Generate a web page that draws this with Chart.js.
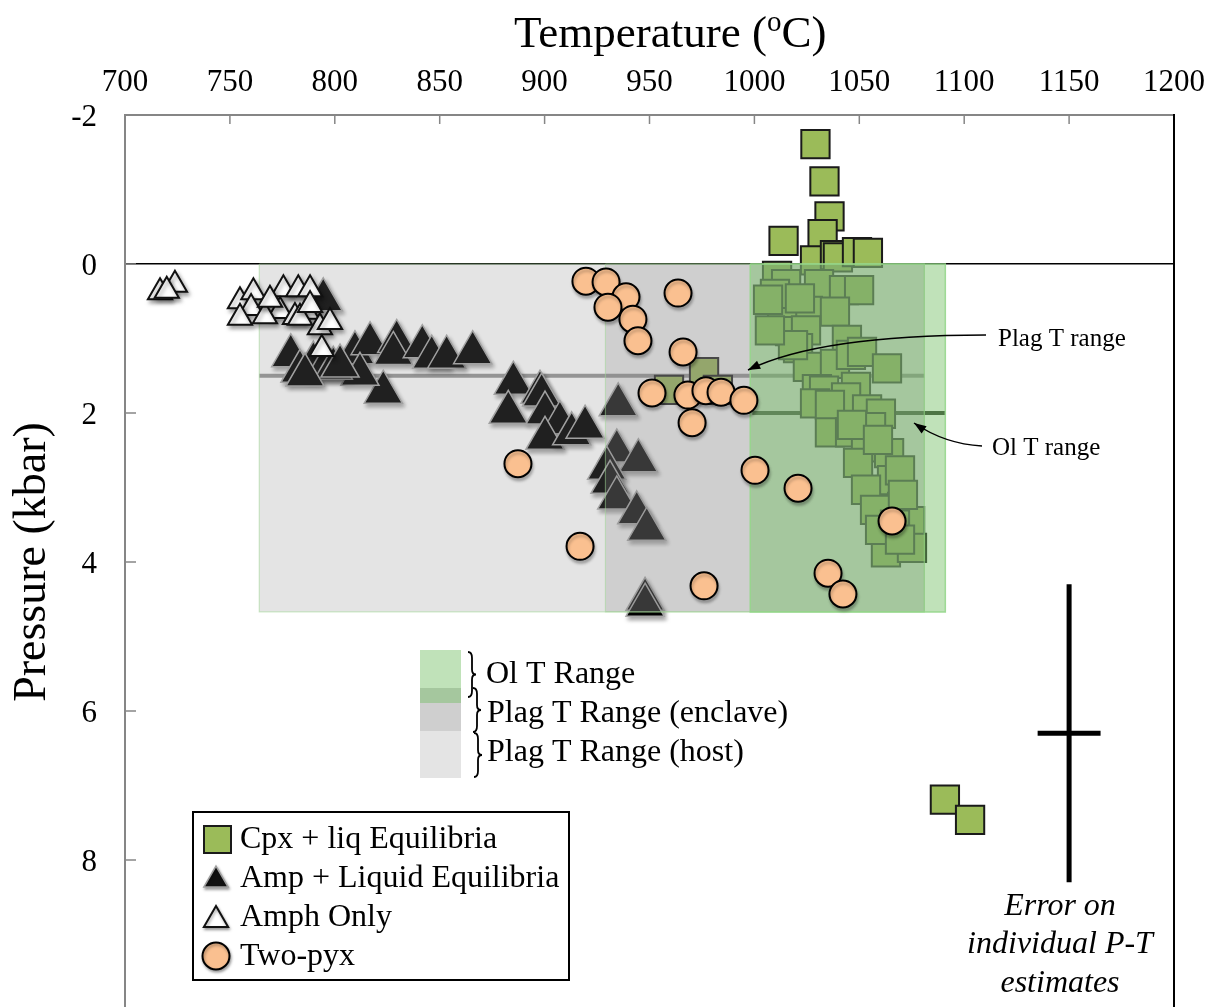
<!DOCTYPE html>
<html>
<head>
<meta charset="utf-8">
<title>P-T estimates</title>
<script src="https://cdn.jsdelivr.net/npm/chart.js@4.4.1/dist/chart.umd.min.js"></script>
<style>
  html, body { margin: 0; padding: 0; background: #fff; overflow: hidden; }
  #wrap { width: 1206px; height: 1012px; }
</style>
</head>
<body>
<div id="wrap"><canvas id="ptChart" width="1206" height="1012"></canvas></div>
<script>
// Axis ticks
const tempTicks = [700, 750, 800, 850, 900, 950, 1000, 1050, 1100, 1150, 1200];
const pressTicks = [-2, 0, 2, 4, 6, 8];
const pressMax = 10;

// Cpx + liq equilibria (T in °C, P in kbar)
const cpxT = [1029.1, 1033.4, 1035.8, 1013.9, 1032.5, 1028.9, 1038.4, 1039.8, 1048.9, 1054.1,
  1010.8, 1015.1, 1009.8, 1030.8, 1042.7, 1049.9, 1025.5, 1038.4, 1013.2, 1017.0,
  1024.6, 1044.1, 1020.8, 1025.5, 1038.4, 1046.0, 1051.3, 1063.2, 1029.8, 1033.2,
  1048.4, 1043.7, 1028.9, 1036.0, 1053.7, 1060.3, 1055.6, 1036.0, 1045.6, 1053.2,
  1064.2, 1049.4, 1065.6, 1053.2, 1070.4, 1057.5, 1074.2, 1067.0, 1062.7, 1075.1,
  1006.5, 1021.7, 1018.4, 1046.5, 1058.9, 1069.4, 1070.8, 1059.9, 1069.4, 1007.4,
  976.0, 959.3, 982.6, 1090.8, 1102.8];
const cpxP = [-1.61, -1.11, -0.64, -0.31, -0.40, -0.05, -0.12, -0.09, -0.16, -0.15,
  0.16, 0.27, 0.40, 0.27, 0.35, 0.35, 0.63, 0.64, 0.78, 0.90,
  0.89, 1.02, 1.13, 1.38, 1.34, 1.22, 1.18, 1.40, 1.68, 1.70,
  1.65, 1.79, 1.87, 1.89, 1.95, 2.01, 2.19, 2.26, 2.26, 2.46,
  2.54, 2.67, 2.90, 3.03, 3.26, 3.30, 3.45, 3.50, 3.87, 3.81,
  0.48, 0.46, 1.09, 2.16, 2.36, 2.77, 3.10, 3.57, 3.70, 0.89,
  1.45, 1.69, 1.69, 7.19, 7.46];

// Amp + liquid equilibria
const ampT = [779.0, 809.6, 816.8, 829.5, 827.9, 841.7, 846.2, 853.3, 865.7, 823.1,
  812.0, 789.8, 783.4, 794.5, 799.3, 794.5, 785.8, 802.5, 885.1, 882.7,
  897.8, 898.6, 900.2, 907.3, 900.2, 912.9, 919.3, 935.1, 934.4, 944.7,
  929.6, 931.2, 934.4, 943.9, 948.7, 947.9, 947.9];
const ampP = [1.23, 1.19, 1.07, 1.04, 1.20, 1.11, 1.25, 1.25, 1.19, 1.72,
  1.48, 1.33, 1.44, 1.42, 1.40, 0.48, 1.49, 1.37, 1.60, 1.99,
  1.72, 1.76, 2.00, 2.13, 2.34, 2.28, 2.19, 1.89, 2.51, 2.64,
  2.74, 2.93, 3.14, 3.34, 3.56, 4.50, 4.58];

// Amph only
const amphT = [723.8, 716.7, 719.9, 754.8, 761.2, 775.5, 782.6, 788.2, 773.9, 786.6,
  781.0, 792.9, 793.8, 760.1, 754.8, 766.7, 783.4, 788.2, 769.1, 797.7];
const amphP = [0.28, 0.38, 0.36, 0.50, 0.38, 0.34, 0.34, 0.34, 0.63, 0.64,
  0.71, 0.85, 1.14, 0.59, 0.72, 0.70, 0.72, 0.55, 0.48, 0.78];

// Two-pyroxene
const pyxT = [919.7, 929.3, 938.8, 930.2, 942.1, 944.5, 963.6, 966.0, 951.2, 968.3,
  976.9, 984.1, 995.0, 970.3, 887.3, 1000.3, 916.9, 976.0, 1020.8, 1065.6,
  1035.1, 1042.2];
const pyxP = [0.23, 0.24, 0.44, 0.58, 0.74, 1.03, 0.39, 1.18, 1.73, 1.76,
  1.70, 1.72, 1.83, 2.13, 2.68, 2.77, 3.79, 4.32, 3.01, 3.45,
  4.15, 4.43];

// Temperature ranges (shaded boxes, from 0 kbar down to rangeP)
const rangeNames = ['Ol T Range', 'Plag T Range (enclave)', 'Plag T Range (host)'];
const rangeTmin = [998, 929, 764];
const rangeTmax = [1091, 1081, 1081];
const rangeP = 4.67;

// Range lines
const plagLineT = [764, 1081];
const plagLineP = 1.5;
const olLineT = [999, 1091];
const olLineP = 2.0;

// Error on individual estimates
const errT = 1150, errP = 6.3, errDT = 15, errDP = 2;

const serif = '"Liberation Serif", "Times New Roman", serif';
Chart.defaults.font.family = serif;
Chart.defaults.color = '#000';

function pts(xs, ys) { return xs.map((x, i) => ({ x: x, y: ys[i] })); }
function box(t0, t1, p0, p1) {
    return [{ x: t0, y: p0 }, { x: t1, y: p0 }, { x: t1, y: p1 }, { x: t0, y: p1 }, { x: t0, y: p0 }];
}

const olFill = 'rgba(115,190,100,0.45)';
const grayFill = 'rgba(140,140,140,0.23)';
const markerShadow = { color: 'rgba(0,0,0,0.35)', blur: 4, dx: 2, dy: 3 };

// Shadows on the marker series
const shadowPlugin = {
    id: 'markerShadow',
    beforeDatasetDraw(chart, args) {
        const s = chart.data.datasets[args.index].shadow;
        if (!s) return;
        const ctx = chart.ctx;
        ctx.save();
        ctx.shadowColor = s.color;
        ctx.shadowBlur = s.blur;
        ctx.shadowOffsetX = s.dx;
        ctx.shadowOffsetY = s.dy;
    },
    afterDatasetDraw(chart, args) {
        if (chart.data.datasets[args.index].shadow) chart.ctx.restore();
    }
};

function tri(ctx, x, y, r) {
    ctx.beginPath();
    ctx.moveTo(x, y - r);
    ctx.lineTo(x + r * 0.866, y + r / 2);
    ctx.lineTo(x - r * 0.866, y + r / 2);
    ctx.closePath();
}

function brace(ctx, x, y0, y1, w) {
    const ym = (y0 + y1) / 2;
    ctx.beginPath();
    ctx.moveTo(x, y0);
    ctx.quadraticCurveTo(x + w, y0, x + w, y0 + 6);
    ctx.lineTo(x + w, ym - 5);
    ctx.quadraticCurveTo(x + w, ym, x + 2 * w, ym);
    ctx.quadraticCurveTo(x + w, ym, x + w, ym + 5);
    ctx.lineTo(x + w, y1 - 6);
    ctx.quadraticCurveTo(x + w, y1, x, y1);
    ctx.stroke();
}

function arrow(ctx, sx, sy, cx, cy, ex, ey) {
    ctx.beginPath();
    ctx.moveTo(sx, sy);
    ctx.quadraticCurveTo(cx, cy, ex, ey);
    ctx.stroke();
    const a = Math.atan2(ey - cy, ex - cx);
    ctx.beginPath();
    ctx.moveTo(ex, ey);
    ctx.lineTo(ex - 13 * Math.cos(a - 0.35), ey - 13 * Math.sin(a - 0.35));
    ctx.lineTo(ex - 13 * Math.cos(a + 0.35), ey - 13 * Math.sin(a + 0.35));
    ctx.closePath();
    ctx.fill();
}

const extras = {
    id: 'extras',
    afterDraw(chart) {
        const { ctx, chartArea: a, scales: { x, y } } = chart;
        ctx.save();

        // right frame
        ctx.strokeStyle = '#000';
        ctx.lineWidth = 2;
        ctx.beginPath();
        ctx.moveTo(a.right, a.top - 1);
        ctx.lineTo(a.right, a.bottom);
        ctx.stroke();

        // inward tick marks
        ctx.strokeStyle = '#868686';
        ctx.lineWidth = 1.5;
        tempTicks.slice(1, -1).forEach(v => {
            const px = x.getPixelForValue(v);
            ctx.beginPath(); ctx.moveTo(px, a.top); ctx.lineTo(px, a.top + 9); ctx.stroke();
        });
        pressTicks.slice(1).forEach(v => {
            const py = y.getPixelForValue(v);
            ctx.beginPath(); ctx.moveTo(a.left, py); ctx.lineTo(a.left + 11, py); ctx.stroke();
        });

        // title with superscript o
        ctx.fillStyle = '#000';
        ctx.textBaseline = 'alphabetic';
        ctx.textAlign = 'left';
        let tx = 514;
        ctx.font = '45px ' + serif;
        ctx.fillText('Temperature (', tx, 47);
        tx += ctx.measureText('Temperature (').width;
        ctx.font = '29px ' + serif;
        ctx.fillText('o', tx, 31);
        tx += ctx.measureText('o').width;
        ctx.font = '45px ' + serif;
        ctx.fillText('C)', tx, 47);

        // annotations
        ctx.font = '25px ' + serif;
        ctx.textBaseline = 'middle';
        ctx.fillText('Plag T range', 998, 339);
        ctx.fillText('Ol T range', 992, 448);
        ctx.strokeStyle = '#000';
        ctx.fillStyle = '#000';
        ctx.lineWidth = 1.5;
        arrow(ctx, 986, 335, 820, 335, 748, 370);
        arrow(ctx, 982, 446, 945, 444, 914, 423);

        // range legend
        ctx.fillStyle = grayFill;
        ctx.fillRect(420, 688, 41, 90);
        ctx.fillRect(420, 688, 41, 43);
        ctx.fillStyle = olFill;
        ctx.fillRect(420, 650, 41, 53);
        ctx.strokeStyle = '#000';
        ctx.lineWidth = 1.8;
        brace(ctx, 468, 652, 697, 4);
        brace(ctx, 473, 688, 732, 4);
        brace(ctx, 474, 733, 777, 4);
        ctx.fillStyle = '#000';
        ctx.font = '32px ' + serif;
        ctx.fillText(rangeNames[0], 486, 675);
        ctx.fillText(rangeNames[1], 487, 714);
        ctx.fillText(rangeNames[2], 487, 753);

        // series legend
        ctx.fillStyle = '#fff';
        ctx.fillRect(193, 812, 376, 168);
        ctx.strokeStyle = '#000';
        ctx.lineWidth = 2;
        ctx.strokeRect(193, 812, 376, 168);
        const names = chart.data.datasets;
        ctx.fillStyle = '#9bbb59';
        ctx.fillRect(204, 826, 27, 27);
        ctx.strokeStyle = '#1a1a1a';
        ctx.strokeRect(204, 826, 27, 27);
        ctx.save();
        ctx.shadowColor = 'rgba(0,0,0,0.35)'; ctx.shadowBlur = 3; ctx.shadowOffsetX = 1; ctx.shadowOffsetY = 2;
        tri(ctx, 216, 880, 14);
        ctx.fillStyle = '#111'; ctx.fill();
        ctx.strokeStyle = '#a0a0a0'; ctx.lineWidth = 1.5; ctx.stroke();
        tri(ctx, 216, 920, 14);
        ctx.fillStyle = '#fff'; ctx.fill();
        ctx.strokeStyle = '#111'; ctx.lineWidth = 2; ctx.stroke();
        ctx.beginPath(); ctx.arc(216, 956, 13.5, 0, Math.PI * 2);
        ctx.fillStyle = '#fac090'; ctx.fill();
        ctx.strokeStyle = '#000'; ctx.stroke();
        ctx.restore();
        ctx.fillStyle = '#000';
        ctx.font = '32px ' + serif;
        ctx.fillText(names[5].label, 240, 840);
        ctx.fillText(names[6].label, 240, 879);
        ctx.fillText(names[1].label, 240, 918);
        ctx.fillText(names[0].label, 240, 957);

        // error note
        ctx.font = 'italic 32px ' + serif;
        ctx.textAlign = 'center';
        ctx.fillText('Error on', 1060, 907);
        ctx.fillText('individual P-T', 1060, 945);
        ctx.fillText('estimates', 1060, 984);

        ctx.restore();
    }
};

const datasets = [
    {
        label: 'Two-pyx', data: pts(pyxT, pyxP), pointStyle: 'circle', pointRadius: 13.5,
        backgroundColor: '#fac090', borderColor: '#000', borderWidth: 2, order: 1,
        shadow: { color: 'rgba(0,0,0,0.25)', blur: 3, dx: 1, dy: 3 }
    },
    {
        label: 'Amph Only', data: pts(amphT, amphP), pointStyle: 'triangle', pointRadius: 14,
        backgroundColor: '#fff', borderColor: '#111', borderWidth: 2, order: 2, shadow: markerShadow
    },
    {
        type: 'line', label: rangeNames[0], data: box(rangeTmin[0], rangeTmax[0], 0, rangeP),
        fill: 'shape', backgroundColor: olFill, borderColor: 'rgba(150,215,140,0.9)',
        borderWidth: 1.5, pointRadius: 0, order: 3
    },
    {
        type: 'line', label: rangeNames[1], data: box(rangeTmin[1], rangeTmax[1], 0, rangeP),
        fill: 'shape', backgroundColor: grayFill, borderColor: 'rgba(160,215,150,0.5)',
        borderWidth: 1.2, pointRadius: 0, order: 4
    },
    {
        type: 'line', label: rangeNames[2], data: box(rangeTmin[2], rangeTmax[2], 0, rangeP),
        fill: 'shape', backgroundColor: grayFill, borderColor: 'rgba(160,215,150,0.5)',
        borderWidth: 1.2, pointRadius: 0, order: 5
    },
    {
        label: 'Cpx + liq Equilibria', data: pts(cpxT, cpxP), pointStyle: 'rect', pointRadius: 20,
        backgroundColor: '#9bbb59', borderColor: '#1a1a1a', borderWidth: 2, order: 6
    },
    {
        label: 'Amp + Liquid Equilibria', data: pts(ampT, ampP), pointStyle: 'triangle', pointRadius: 22,
        backgroundColor: '#000', borderColor: '#a8a8a8', borderWidth: 1.5, order: 7, shadow: markerShadow
    },
    {
        type: 'line', label: 'Ol line', data: pts(olLineT, [olLineP, olLineP]),
        borderColor: '#2e3a2a', borderWidth: 4, pointRadius: 0, fill: false, order: 8
    },
    {
        type: 'line', label: 'Plag line', data: pts(plagLineT, [plagLineP, plagLineP]),
        borderColor: '#979797', borderWidth: 4, pointRadius: 0, fill: false, order: 9
    },
    {
        type: 'line', label: 'err P', data: pts([errT, errT], [errP - errDP, errP + errDP]),
        borderColor: '#000', borderWidth: 5, pointRadius: 0, fill: false, order: 0
    },
    {
        type: 'line', label: 'err T', data: pts([errT - errDT, errT + errDT], [errP, errP]),
        borderColor: '#000', borderWidth: 5, pointRadius: 0, fill: false, order: 0
    }
];

new Chart(document.getElementById('ptChart'), {
    type: 'scatter',
    data: { datasets: datasets },
    options: {
        responsive: false,
        animation: false,
        events: [],
        layout: { padding: { left: 0, top: 0, right: 32, bottom: 3 }, autoPadding: false },
        plugins: {
            legend: { display: false },
            tooltip: { enabled: false }
        },
        scales: {
            x: {
                type: 'linear',
                position: 'top',
                min: tempTicks[0],
                max: tempTicks[tempTicks.length - 1],
                afterBuildTicks: s => { s.ticks = tempTicks.map(v => ({ value: v })); },
                afterFit: s => { s.height = 115; s.paddingLeft = 0; s.paddingRight = 0; },
                ticks: {
                    font: { size: 31 }, padding: 14, maxRotation: 0, autoSkip: false, color: '#000',
                    callback: v => String(v)
                },
                grid: { display: false, drawTicks: false },
                border: { display: true, color: '#868686', width: 2 }
            },
            y: {
                type: 'linear',
                reverse: true,
                min: pressTicks[0],
                max: pressMax,
                afterBuildTicks: s => { s.ticks = pressTicks.map(v => ({ value: v })); },
                afterFit: s => { s.width = 125; s.paddingTop = 0; s.paddingBottom = 0; },
                ticks: { font: { size: 31 }, padding: 28, labelOffset: 3, color: '#000', callback: v => String(v) },
                grid: {
                    drawTicks: false,
                    lineWidth: 1.5,
                    color: c => (c.tick && c.tick.value === 0 ? '#000' : 'rgba(0,0,0,0)')
                },
                border: { display: true, color: '#868686', width: 2 },
                title: { display: true, text: 'Pressure (kbar)', font: { size: 46 }, padding: { top: 5, bottom: 0 } }
            }
        }
    },
    plugins: [shadowPlugin, extras]
});
</script>
</body>
</html>
